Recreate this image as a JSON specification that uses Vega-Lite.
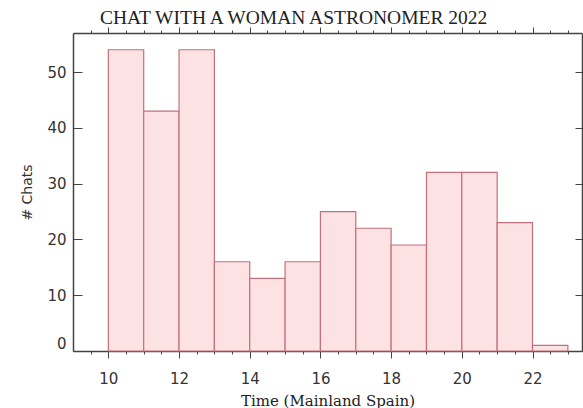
{
  "$schema": "https://vega.github.io/schema/vega-lite/v6.json",
  "autosize": "none",
  "width": 509,
  "height": 318,
  "padding": {"left": 73, "top": 33, "right": 1, "bottom": 57},
  "background": "white",
  "title": {
    "text": "CHAT WITH A WOMAN ASTRONOMER 2022",
    "anchor": "start",
    "frame": "group",
    "dx": 27,
    "offset": -2,
    "font": "Liberation Serif",
    "fontSize": 19.5,
    "fontWeight": "normal",
    "color": "#222"
  },
  "data": {
    "values": [
      {"start": 10, "end": 11, "chats": 54},
      {"start": 11, "end": 12, "chats": 43},
      {"start": 12, "end": 13, "chats": 54},
      {"start": 13, "end": 14, "chats": 16},
      {"start": 14, "end": 15, "chats": 13},
      {"start": 15, "end": 16, "chats": 16},
      {"start": 16, "end": 17, "chats": 25},
      {"start": 17, "end": 18, "chats": 22},
      {"start": 18, "end": 19, "chats": 19},
      {"start": 19, "end": 20, "chats": 32},
      {"start": 20, "end": 21, "chats": 32},
      {"start": 21, "end": 22, "chats": 23},
      {"start": 22, "end": 23, "chats": 1}
    ]
  },
  "layer": [
    {
      "mark": {"type": "bar", "fill": "#fde2e3", "stroke": "#c4707c", "strokeWidth": 1.2},
      "encoding": {
        "x": {
          "field": "start", "type": "quantitative",
          "scale": {"domain": [9, 23.4], "nice": false, "zero": false},
          "axis": {
            "orient": "bottom",
            "values": [9.5, 10, 10.5, 11, 11.5, 12, 12.5, 13, 13.5, 14, 14.5, 15, 15.5, 16, 16.5, 17, 17.5, 18, 18.5, 19, 19.5, 20, 20.5, 21, 21.5, 22, 22.5, 23],
            "labelExpr": "datum.value % 2 === 0 ? ('' + datum.value) : ''",
            "title": "Time (Mainland Spain)",
            "titleFont": "DejaVu Serif",
            "titleFontSize": 15,
            "titleFontWeight": "normal",
            "titleColor": "#222",
            "titlePadding": 7,
            "labelFont": "DejaVu Sans",
            "labelFontSize": 15,
            "labelColor": "#333",
            "labelPadding": 13,
            "labelOverlap": false,
            "tickSize": {"condition": {"test": "datum.value % 2 === 0", "value": 7}, "value": 3},
            "tickColor": "#444",
            "domainColor": "#444",
            "domainWidth": 1.5,
            "grid": false
          }
        },
        "x2": {"field": "end"},
        "y": {
          "field": "chats", "type": "quantitative",
          "scale": {"domain": [0, 57], "nice": false},
          "axis": {
            "orient": "left",
            "values": [0, 10, 20, 30, 40, 50],
            "title": "# Chats",
            "titleFont": "DejaVu Sans",
            "titleFontSize": 14,
            "titleFontWeight": "normal",
            "titleColor": "#333",
            "titlePadding": 12,
            "labelFont": "DejaVu Sans",
            "labelFontSize": 15,
            "labelColor": "#333",
            "labelPadding": 16,
            "labelFlush": true,
            "labelFlushOffset": 0,
            "tickSize": -9,
            "tickColor": "#444",
            "domainColor": "#444",
            "domainWidth": 1.5,
            "grid": false
          }
        },
        "y2": {"datum": 0}
      }
    },
    {
      "mark": {"type": "bar", "opacity": 0},
      "encoding": {
        "x": {
          "field": "start", "type": "quantitative",
          "axis": {
            "orient": "top",
            "values": [9.5, 10, 10.5, 11, 11.5, 12, 12.5, 13, 13.5, 14, 14.5, 15, 15.5, 16, 16.5, 17, 17.5, 18, 18.5, 19, 19.5, 20, 20.5, 21, 21.5, 22, 22.5, 23],
            "labels": false,
            "title": null,
            "tickSize": {"condition": {"test": "datum.value % 2 === 0", "value": 6}, "value": 3},
            "tickColor": "#444",
            "domainColor": "#444",
            "domainWidth": 1.5,
            "grid": false
          }
        },
        "x2": {"field": "end"},
        "y": {
          "field": "chats", "type": "quantitative",
          "axis": {
            "orient": "right",
            "values": [0, 10, 20, 30, 40, 50],
            "labels": false,
            "title": null,
            "tickSize": -7,
            "tickColor": "#444",
            "domainColor": "#444",
            "domainWidth": 1.5,
            "grid": false
          }
        },
        "y2": {"datum": 0}
      }
    }
  ],
  "resolve": {"axis": {"x": "independent", "y": "independent"}},
  "config": {"view": {"stroke": null}}
}
